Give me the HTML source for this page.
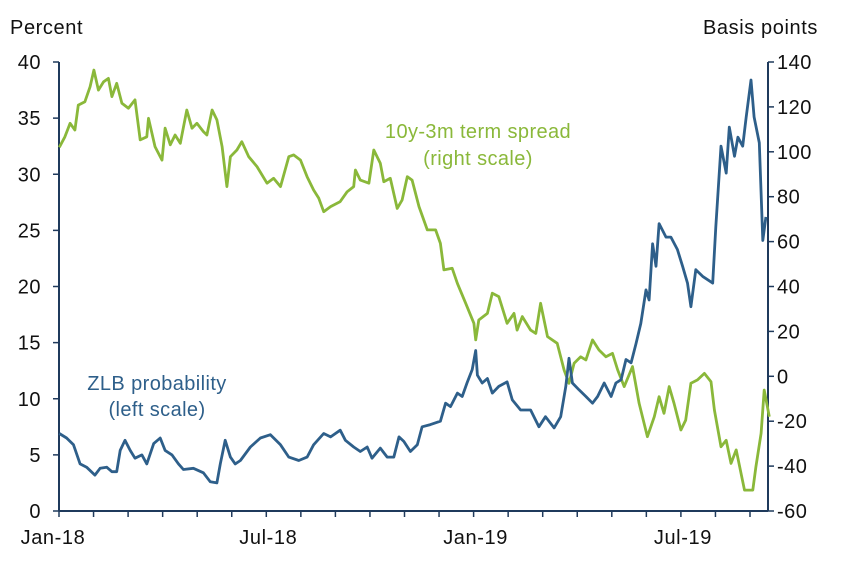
<!DOCTYPE html>
<html><head><meta charset="utf-8"><style>
body{margin:0;background:#fff}
svg{display:block;font-family:"Liberation Sans",sans-serif}
</style></head><body>
<svg id="chart" width="849" height="576">
<text x="10" y="34" font-size="20" letter-spacing="0.6" fill="#111">Percent</text>
<text x="818" y="34" font-size="20" letter-spacing="0.6" fill="#111" text-anchor="end">Basis points</text>
<g id="axes"></g>
<g id="lines"></g>
<text x="478" y="138" font-size="20" letter-spacing="0.4" fill="#8ab83a" text-anchor="middle">10y-3m term spread</text>
<text x="478" y="165" font-size="20" letter-spacing="0.4" fill="#8ab83a" text-anchor="middle">(right scale)</text>
<text x="157" y="390" font-size="20" letter-spacing="0.4" fill="#2e5f8a" text-anchor="middle">ZLB probability</text>
<text x="157" y="416" font-size="20" letter-spacing="0.4" fill="#2e5f8a" text-anchor="middle">(left scale)</text>
</svg>
<script>
const leftTicks=[0,5,10,15,20,25,30,35,40];
const rightTicks=[-60,-40,-20,0,20,40,60,80,100,120,140];
const xLabels=["Jan-18","Jul-18","Jan-19","Jul-19"];
const xLabelMonths=[0,6,12,18];
const spreadT=[0.01,.17,.32,.46,.56,.75,.9,1.01,1.14,1.29,1.43,1.53,1.67,1.82,2.01,2.2,2.35,2.54,2.59,2.78,2.98,3.07,3.22,3.36,3.51,3.7,3.85,3.99,4.18,4.28,4.43,4.57,4.72,4.86,4.96,5.15,5.29,5.49,5.73,6.02,6.21,6.41,6.65,6.79,6.99,7.18,7.37,7.52,7.66,7.86,8.14,8.34,8.53,8.58,8.72,8.97,9.11,9.3,9.4,9.59,9.79,9.93,10.08,10.22,10.42,10.66,10.9,11.04,11.14,11.38,11.53,11.77,12.01,12.06,12.15,12.4,12.54,12.73,12.97,13.17,13.26,13.41,13.65,13.8,13.94,14.14,14.42,14.62,14.76,14.91,15.1,15.25,15.44,15.63,15.83,16.02,16.17,16.36,16.6,16.79,17.03,17.23,17.37,17.51,17.66,17.8,18,18.14,18.29,18.48,18.68,18.87,18.97,19.16,19.31,19.45,19.6,19.84,20.08,20.17,20.32,20.41,20.56];
const spreadV=[102,106.7,112.7,109.7,120.8,122.3,129,136.4,127.5,131.2,132.7,124.6,130.5,121.6,119.4,123.1,105.3,106.7,114.9,102.3,96.3,110.5,103.1,107.5,103.8,118.6,110.5,112.7,109,107.5,118.6,114.2,102.3,84.5,97.8,100.8,104.5,97.8,93.4,86,88.2,84.5,97.8,98.6,96.3,88.9,83,79.3,73.3,75.6,77.8,82.2,84.5,91.9,87.4,86,100.8,94.9,86.7,88.2,74.8,78.5,88.9,87.4,75.6,65.2,65.2,59.2,47.4,48.1,41.4,32.5,23.6,16.2,25.1,28,37,35.5,23.6,28,20.6,26.6,20.6,19.1,32.5,17.7,14.7,2.8,-3.1,5.8,8.7,7.3,16.2,11.7,8.7,10.2,2.8,-4.6,4.3,-12,-26.9,-18,-9.1,-16.5,-4.6,-12,-23.9,-19.5,-3.1,-1.6,1.3,-2.4,-15,-31.4,-28.5,-38.8,-32.8,-50.7,-50.7,-40.3,-25.4,-6.1,-18];
const zlbT=[0.01,.22,.42,.61,.8,1.04,1.19,1.38,1.53,1.67,1.77,1.91,2.06,2.2,2.4,2.54,2.74,2.93,3.07,3.27,3.46,3.6,3.89,4.18,4.38,4.57,4.67,4.81,4.96,5.1,5.25,5.54,5.83,6.12,6.41,6.65,6.94,7.18,7.37,7.66,7.86,8.14,8.29,8.53,8.72,8.92,9.06,9.3,9.5,9.69,9.84,9.98,10.17,10.37,10.51,10.75,11.04,11.19,11.33,11.53,11.67,11.81,11.96,12.06,12.11,12.25,12.4,12.54,12.73,12.97,13.12,13.36,13.65,13.89,14.08,14.33,14.52,14.67,14.76,14.86,15.05,15.25,15.44,15.59,15.78,15.98,16.12,16.27,16.41,16.56,16.7,16.84,16.99,17.08,17.18,17.28,17.37,17.57,17.71,17.9,18.05,18.19,18.29,18.43,18.63,18.92,19.01,19.16,19.31,19.4,19.55,19.65,19.79,19.89,20.03,20.12,20.27,20.37,20.46];
const zlbV=[6.9,6.5,5.9,4.2,3.9,3.2,3.8,3.9,3.5,3.5,5.4,6.3,5.4,4.7,5,4.2,6,6.5,5.4,5,4.2,3.7,3.8,3.4,2.6,2.5,4.2,6.3,4.8,4.2,4.5,5.7,6.5,6.8,5.9,4.8,4.5,4.8,5.9,6.9,6.6,7.2,6.3,5.7,5.3,5.7,4.7,5.6,4.8,4.8,6.6,6.2,5.3,5.9,7.5,7.7,8,9.6,9.3,10.5,10.2,11.4,12.6,14.3,12.1,11.4,11.8,10.5,11.1,11.5,9.9,9,9,7.5,8.4,7.4,8.4,11.1,13.6,11.4,10.8,10.2,9.6,10.2,11.4,10.2,11.4,11.7,13.5,13.2,14.9,16.7,19.7,18.8,23.8,21.8,25.6,24.4,24.4,23.3,21.8,20.3,18.2,21.5,20.9,20.3,25.3,32.5,30.1,34.2,31.6,33.3,32.5,35.1,38.4,35.1,32.8,24.1,26.2];

const X0=59,X1=768,Y0=511,Y1=62;
const xs=m=>X0+m*34.55;
const yl=v=>Y0-(v/40)*(Y0-Y1);
const yr=v=>Y0-((v+60)/200)*(Y0-Y1);
const NS="http://www.w3.org/2000/svg";
const axes=document.getElementById('axes'),lines=document.getElementById('lines');
function mk(tag,attrs,parent){const e=document.createElementNS(NS,tag);for(const k in attrs)e.setAttribute(k,attrs[k]);parent.appendChild(e);return e;}
const ax="#1f3a5c";
let e=mk('line',{x1:X0,y1:Y1,x2:X0,y2:Y0,stroke:ax,'stroke-width':2},axes);


e=mk('line',{x1:X1,y1:Y1,x2:X1,y2:Y0,stroke:ax,'stroke-width':2},axes);


e=mk('line',{x1:X0,y1:Y0,x2:X1,y2:Y0,stroke:ax,'stroke-width':2},axes);


leftTicks.forEach(v=>{const y=yl(v);
 mk('line',{x1:X0-6,y1:y,x2:X0,y2:y,stroke:ax,'stroke-width':1.5},axes);
 const t=mk('text',{x:41,y:y+7,'font-size':20,'letter-spacing':0.5,'text-anchor':'end',fill:'#111'},axes);t.textContent=v;
 
 });
rightTicks.forEach(v=>{const y=yr(v);
 mk('line',{x1:X1,y1:y,x2:X1+6,y2:y,stroke:ax,'stroke-width':1.5},axes);
 const t=mk('text',{x:777,y:y+7,'font-size':20,'letter-spacing':0.5,fill:'#111'},axes);t.textContent=v;
 
 });
for(let m=0;m<=20;m++){const x=xs(m);mk('line',{x1:x,y1:Y0,x2:x,y2:Y0+6,stroke:ax,'stroke-width':1.5},axes);}
xLabels.forEach((l,i)=>{const t=mk('text',{x:i===0?xs(xLabelMonths[i])-6:xs(xLabelMonths[i])+2,y:544,'font-size':20,'letter-spacing':0.6,'text-anchor':'middle',fill:'#111'},axes);t.textContent=l;
 
 });
function path(T,V,yf,col,name){const d=T.map((t,i)=>(i?'L':'M')+xs(t).toFixed(1)+','+yf(V[i]).toFixed(1)).join('');
 const p=mk('path',{d:d,fill:'none',stroke:col,'stroke-width':2.8,'stroke-linejoin':'round'},lines);
 
 }
path(spreadT,spreadV,yr,'#8ab83a','term-spread-line');
path(zlbT,zlbV,yl,'#2e5f8a','zlb-probability-line');
</script>
</body></html>
